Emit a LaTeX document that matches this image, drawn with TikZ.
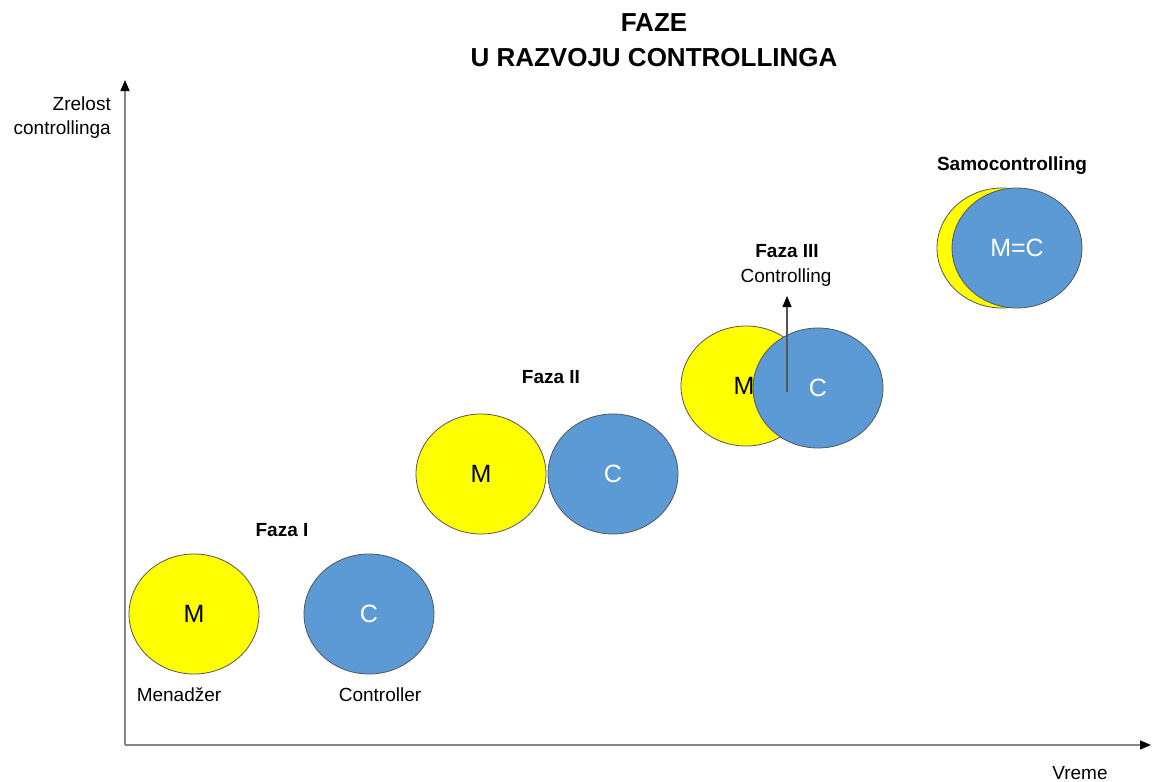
\documentclass[tikz,border=0pt]{standalone}
\usepackage{fontspec}
\setmainfont{Liberation Sans}
\usetikzlibrary{shapes.geometric,arrows.meta}
\definecolor{myyellow}{HTML}{FFFF00}
\definecolor{myblue}{HTML}{5B9AD5}
\definecolor{axisgray}{HTML}{858585}
\definecolor{rimgray}{HTML}{555555}
\tikzset{
  circ/.style={ellipse, minimum width=130pt, minimum height=120pt, inner sep=0pt, draw=rimgray, line width=0.8pt},
  mcirc/.style={circ, fill=myyellow, text=black, font=\fontsize{25}{27}\selectfont},
  ccirc/.style={circ, fill=myblue, text=white, font=\fontsize{25}{27}\selectfont},
  lbl/.style={font=\fontsize{19}{24}\selectfont, inner sep=0pt},
  blbl/.style={font=\bfseries\fontsize{19}{22}\selectfont, inner sep=0pt},
  axis/.style={draw=axisgray, line width=1.5pt, -{Triangle[length=11pt,width=9pt,fill=black,color=black]}},
}
\begin{document}
\begin{tikzpicture}[x=1pt,y=-1pt]
\useasboundingbox (0,0) rectangle (1152,782);
% title
\node[font=\bfseries\fontsize{26}{35}\selectfont, align=center, inner sep=0pt] (title) at (654,40) {FAZE\\U RAZVOJU CONTROLLINGA};
% axes
\coordinate (origin) at (125,745);
\coordinate (ytop) at (125,80);
\coordinate (xend) at (1151,745);
\draw[axis] (origin) -- (ytop);
\draw[axis] (origin) -- (xend);
\node[lbl, align=right, anchor=east] (ylab) at (111,118) {Zrelost\\controllinga};
\node[lbl] (xlab) at (1080,773) {Vreme};
% Faza I
\node[mcirc] (m1) at (194,614) {M};
\node[ccirc] (c1) at (369,614) {C};
\node[lbl] (men) at (179,695) {Menadžer};
\node[lbl] (con) at (380,695) {Controller};
\node[blbl] (f1) at (282,530) {Faza I};
% Faza II
\node[mcirc] (m2) at (481,474) {M};
\node[ccirc] (c2) at (613,474) {C};
\node[blbl] (f2) at (551,377) {Faza II};
% Faza III
\node[mcirc] (m3) at (746,386) {};
\node[font=\fontsize{25}{27}\selectfont, inner sep=0pt] (m3t) at (744,386) {M};
\node[ccirc] (c3) at (818,388) {C};
\coordinate (a3s) at (787,392);
\coordinate (a3e) at (787,296);
\draw[draw=rimgray, line width=1.2pt, -{Triangle[length=11pt,width=9pt,fill=black,color=black]}] (a3s) -- (a3e);
\node[blbl] (f3) at (787,251) {Faza III};
\node[lbl] (f3b) at (786,278) {Controlling};
% Samocontrolling
\node[mcirc] (m4) at (1002,248) {};
\node[ccirc] (c4) at (1017,248) {M=C};
\node[blbl] (f4) at (1012,166) {Samocontrolling};
\end{tikzpicture}
\end{document}
